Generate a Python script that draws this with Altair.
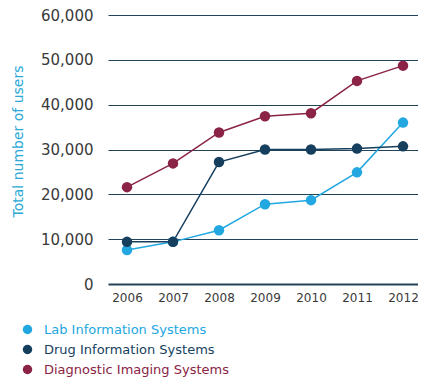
import altair as alt
import pandas as pd

years = [2006, 2007, 2008, 2009, 2010, 2011, 2012]
series_names = ["Lab Information Systems", "Drug Information Systems", "Diagnostic Imaging Systems"]
lab = [7600, 9400, 12000, 17800, 18700, 24900, 36000]
drug = [9400, 9400, 27200, 30000, 30000, 30200, 30700]
diag = [21600, 26900, 33800, 37400, 38100, 45300, 48700]
colors = ["#22a7e0", "#163f5e", "#8a2345"]
y_ticks = [0, 10000, 20000, 30000, 40000, 50000, 60000]

rows = []
for idx, (name, vals) in enumerate(zip(series_names, [lab, drug, diag])):
    for yr, v in zip(years, vals):
        rows.append({"year": yr, "users": v, "series": name, "ord": idx})
df = pd.DataFrame(rows)

FONT = "DejaVu Sans"

label_color_expr = (
    "datum.label == 'Lab Information Systems' ? '%s' : "
    "datum.label == 'Drug Information Systems' ? '%s' : '%s'" % tuple(colors)
)

x_enc = alt.X(
    "year:Q",
    scale=alt.Scale(domain=[2005.587, 2012.326], nice=False, zero=False),
    axis=alt.Axis(values=years, format="d", title=None, grid=False, domain=False,
                  ticks=False, labelFont=FONT, labelFontSize=12, labelColor="#3a3a3a",
                  labelPadding=8, labelOverlap=False, labelBound=False, labelFlush=False),
)
y_enc = alt.Y(
    "users:Q",
    scale=alt.Scale(domain=[0, 60000], nice=False),
    axis=alt.Axis(values=y_ticks, format=",.0f", title="Total number of users",
                  domain=False, ticks=False, grid=True,
                  gridColor="#23435a",
                  gridWidth=alt.ConditionalAxisNumber(condition={"test": "datum.value === 0", "value": 2}, value=1),
                  labelFont=FONT, labelFontSize=15, labelColor="#3a3a3a", labelPadding=15,
                  titleFont=FONT, titleFontSize=14, titleFontWeight="normal", titleColor="#2aa8d8",
                  titleX=-90, titleY=126, titleAngle=-90, titleAlign="center", titleBaseline="middle"),
)
color_enc = alt.Color(
    "series:N",
    scale=alt.Scale(domain=series_names, range=colors),
    legend=alt.Legend(title=None, orient="none", legendX=-87, legendY=308, padding=0,
                      symbolType="circle", symbolSize=90, symbolStrokeWidth=0,
                      labelFont=FONT, labelFontSize=13, rowPadding=6, labelOffset=10,
                      labelLimit=400,
                      labelColor={"expr": label_color_expr}),
)

base = alt.Chart(df)
lines = base.mark_line(strokeWidth=1.5).encode(x=x_enc, y=y_enc, color=color_enc, detail="series:N")
points = base.mark_circle(size=110, opacity=1).encode(
    x=x_enc, y=y_enc, color=alt.Color("series:N", scale=alt.Scale(domain=series_names, range=colors), legend=None),
    order=alt.Order("ord:Q"),
)

chart = alt.layer(lines, points).properties(
    width=310, height=269,
    autosize=alt.AutoSizeParams(type="none"),
    padding={"left": 100, "top": 7, "right": 0, "bottom": 99},
    background="white",
).configure_view(stroke=None)

chart.save("out.html", embed_options={"renderer": "svg", "actions": False})
